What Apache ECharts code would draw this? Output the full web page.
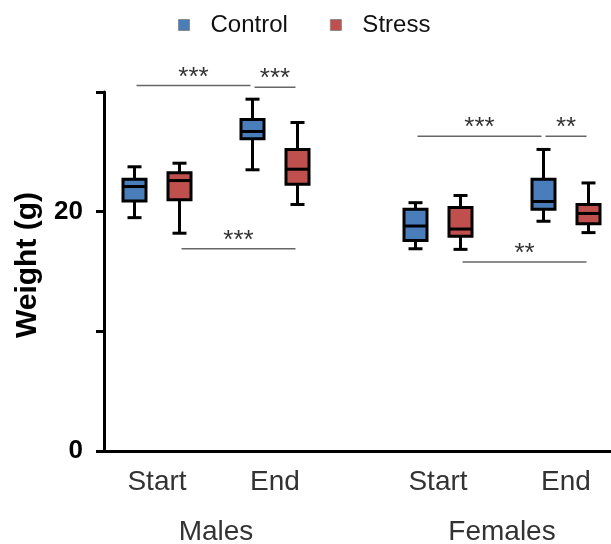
<!DOCTYPE html>
<html>
<head>
<meta charset="utf-8">
<script src="https://cdn.jsdelivr.net/npm/echarts@6/dist/echarts.min.js"></script>
<style>
html,body{margin:0;padding:0;background:#fff;}
#chart{width:611px;height:544px;}
</style>
</head>
<body>
<div id="chart"></div>
<script>
// ---- data ----
const groups = ['Males', 'Females'];
const timepoints = ['Start', 'End'];
const seriesNames = ['Control', 'Stress'];
// [min, Q1, median, Q3, max] for Start, End
const malesControl = [[19.5, 20.9, 22.1, 22.7, 23.75], [23.5, 26.1, 26.7, 27.7, 29.4]];
const malesStress = [[18.2, 21.0, 22.6, 23.25, 24.05], [20.6, 22.3, 23.55, 25.2, 27.45]];
const femalesControl = [[16.9, 17.6, 18.8, 20.2, 20.75], [19.2, 20.2, 20.85, 22.7, 25.2]];
const femalesStress = [[16.85, 17.95, 18.55, 20.35, 21.35], [18.25, 19.0, 19.85, 20.6, 22.4]];
const yLabelValues = [0, 20];
// significance brackets: from/to = [timepointIndex, seriesIndex]
const brackets = [
  { group: 0, from: [0, 0], to: [1, 0], y: 30.55, label: '***' },
  { group: 0, from: [1, 0], to: [1, 1], y: 30.4, label: '***' },
  { group: 0, from: [0, 1], to: [1, 1], y: 16.9, label: '***' },
  { group: 1, from: [0, 0], to: [1, 0], y: 26.3, label: '***' },
  { group: 1, from: [1, 0], to: [1, 1], y: 26.3, label: '**' },
  { group: 1, from: [0, 1], to: [1, 1], y: 15.8, label: '**' }
];

// ---- style ----
const colors = ['#4A7EBB', '#C0504D'];
const OFFSET = 22.5, BW = 23, CAP = 14;
const FONT = '"Liberation Sans", Arial, sans-serif';

function makeRender(side) {
  return function (params, api) {
    const ci = api.value(0);
    const cx = api.coord([ci, 0])[0] + side * OFFSET;
    const py = k => api.coord([ci, api.value(k)])[1];
    const yMin = py(1), yQ1 = py(2), yMed = py(3), yQ3 = py(4), yMax = py(5);
    const ls = { stroke: '#000', lineWidth: 3 };
    return {
      type: 'group',
      children: [
        { type: 'line', shape: { x1: cx, y1: yMax, x2: cx, y2: yQ3 }, style: ls },
        { type: 'line', shape: { x1: cx, y1: yQ1, x2: cx, y2: yMin }, style: ls },
        { type: 'line', shape: { x1: cx - CAP / 2, y1: yMax, x2: cx + CAP / 2, y2: yMax }, style: ls },
        { type: 'line', shape: { x1: cx - CAP / 2, y1: yMin, x2: cx + CAP / 2, y2: yMin }, style: ls },
        { type: 'rect', shape: { x: cx - BW / 2, y: yQ3, width: BW, height: yQ1 - yQ3 },
          style: { fill: api.visual('color'), stroke: '#000', lineWidth: 3 } },
        { type: 'line', shape: { x1: cx - BW / 2, y1: yMed, x2: cx + BW / 2, y2: yMed }, style: ls }
      ]
    };
  };
}

function toData(arr) { return arr.map((v, i) => [i].concat(v)); }

const groupData = [[malesControl, malesStress], [femalesControl, femalesStress]];
const series = [];
groupData.forEach((gd, g) => {
  gd.forEach((d, s) => {
    series.push({
      type: 'custom',
      name: seriesNames[s],
      xAxisIndex: g + 1,
      yAxisIndex: g + 1,
      itemStyle: { color: colors[s] },
      encode: { x: 0, y: [1, 2, 3, 4, 5] },
      renderItem: makeRender(s === 0 ? -1 : 1),
      data: toData(d),
      silent: true
    });
  });
});

// sub-grids: first category at left edge, last at right edge (boundaryGap false)
const subGrid = [{ left: 157, width: 118 }, { left: 438, width: 128 }];
const hiddenY = (gi) => ({ type: 'value', gridIndex: gi, min: 0, max: 30, show: false });
const gridBase = { top: 92, bottom: 93, outerBoundsMode: 'none', containLabel: false };

const chart = echarts.init(document.getElementById('chart'), null, { renderer: 'canvas' });
chart.setOption({
  animation: false,
  backgroundColor: '#fff',
  legend: {
    data: seriesNames,
    left: 173, top: 8,
    icon: 'rect', itemWidth: 11, itemHeight: 11, itemGap: 42,
    itemStyle: { borderColor: '#8a8a8a', borderWidth: 1 },
    textStyle: { fontFamily: FONT, fontSize: 24, color: '#111', padding: [0, 0, 0, 16] }
  },
  grid: [
    Object.assign({ left: 104, right: 0 }, gridBase),
    Object.assign({ left: subGrid[0].left, width: subGrid[0].width }, gridBase),
    Object.assign({ left: subGrid[1].left, width: subGrid[1].width }, gridBase)
  ],
  xAxis: [
    { type: 'value', gridIndex: 0, min: 0, max: 1,
      axisLine: { show: true, lineStyle: { color: '#000', width: 3 } },
      axisTick: { show: false }, axisLabel: { show: false }, splitLine: { show: false } },
    ...[0, 1].map(g => ({
      type: 'category', gridIndex: g + 1, data: timepoints, boundaryGap: false,
      axisLine: { show: false }, axisTick: { show: false }, splitLine: { show: false },
      axisLabel: { fontFamily: FONT, fontSize: 28, color: '#333', margin: 17 },
      name: groups[g], nameLocation: 'middle', nameGap: 67,
      nameTextStyle: { fontFamily: FONT, fontSize: 28, color: '#333' }
    }))
  ],
  yAxis: [
    { type: 'value', gridIndex: 0, min: 0, max: 30, interval: 10,
      axisLine: { show: true, lineStyle: { color: '#000', width: 3 } },
      axisTick: { show: true, length: 8, lineStyle: { color: '#000', width: 3 } },
      splitLine: { show: false },
      axisLabel: { fontFamily: FONT, fontSize: 26, fontWeight: 'bold', color: '#000', margin: 21,
        formatter: v => (yLabelValues.indexOf(v) >= 0 ? String(v) : '') } },
    hiddenY(1), hiddenY(2)
  ],
  series: series
});

// y-axis title + significance brackets via library scales
const graphics = [{
  type: 'text', x: 28, y: 265, rotation: Math.PI / 2,
  style: { text: 'Weight (g)', fontFamily: FONT, fontSize: 30, fontWeight: 'bold', fill: '#000',
    align: 'center', verticalAlign: 'middle' }
}];
function boxX(g, ti, si) {
  return chart.convertToPixel({ xAxisIndex: g + 1 }, ti) + (si === 0 ? -1 : 1) * OFFSET;
}
brackets.forEach(b => {
  const x1 = boxX(b.group, b.from[0], b.from[1]) + 2;
  const x2 = boxX(b.group, b.to[0], b.to[1]) - 2;
  const y = chart.convertToPixel({ yAxisIndex: 0 }, b.y);
  graphics.push({ type: 'line', shape: { x1: x1, y1: y, x2: x2, y2: y },
    style: { stroke: '#666', lineWidth: 1.5 } });
  graphics.push({ type: 'text', x: (x1 + x2) / 2, y: y - 8,
    style: { text: b.label, fontFamily: FONT, fontSize: 26, fill: '#333',
      align: 'center', verticalAlign: 'middle' } });
});
chart.setOption({ graphic: graphics });
</script>
</body>
</html>
